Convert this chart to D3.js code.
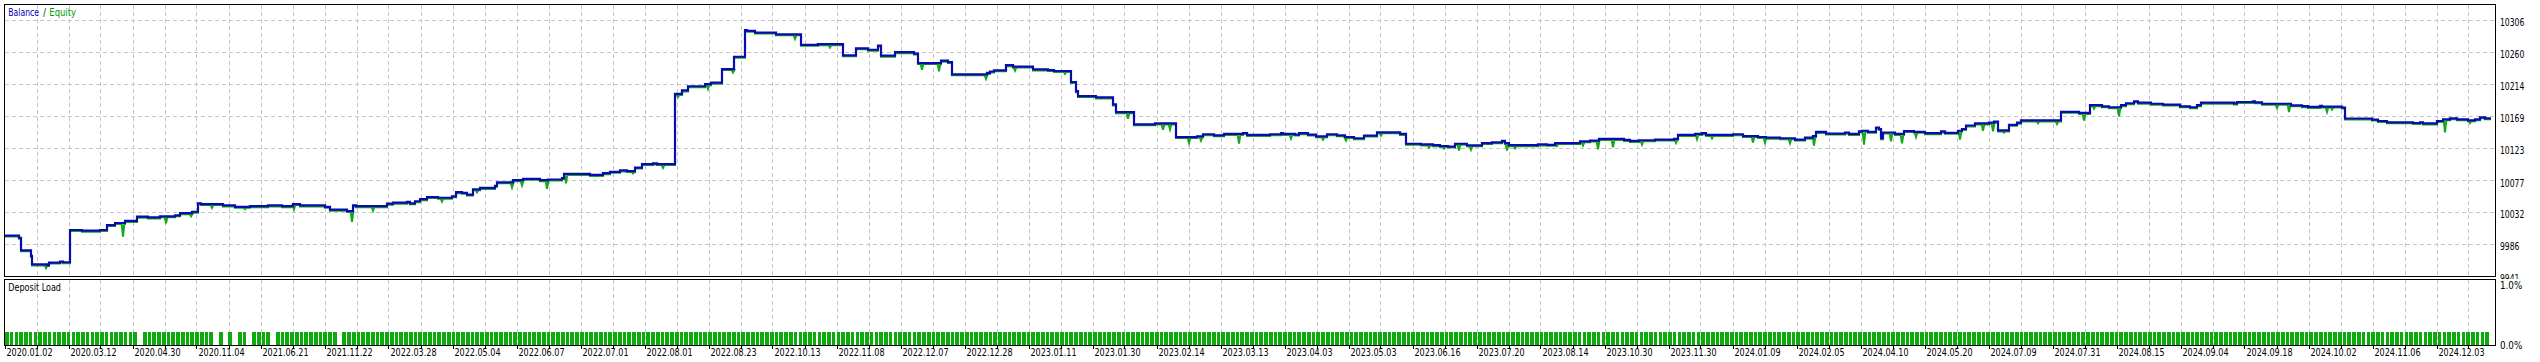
<!DOCTYPE html>
<html><head><meta charset="utf-8">
<script src="https://cdn.jsdelivr.net/npm/d3@7"></script>
<style>html,body{margin:0;padding:0;background:#fff;overflow:hidden}svg{display:block}</style>
</head><body>
<svg id="c" width="2540" height="362"></svg>
<script>
// ---------- DATA ----------
const balanceDeals = [0,14,16,26,27,42,44,55,58,65,77,95,102,110,120,132,143,155,170,175,187,193,196,218,230,245,263,277,288,295,320,325,342,348,351,382,388,402,405,410,415,422,433,447,451,457,462,468,475,490,492,508,518,535,543,557,559,585,598,605,615,622,630,637,648,652,670,677,683,700,706,717,729,740,742,750,771,796,813,838,851,863,873,876,890,909,913,936,943,947,982,985,989,1001,1008,1028,1043,1049,1066,1071,1073,1091,1108,1111,1129,1150,1171,1192,1198,1209,1219,1238,1242,1265,1276,1278,1290,1294,1303,1311,1322,1332,1340,1349,1359,1372,1395,1401,1416,1428,1435,1443,1450,1462,1477,1487,1497,1500,1504,1533,1542,1550,1575,1585,1594,1619,1625,1634,1650,1669,1673,1690,1697,1701,1728,1738,1753,1761,1775,1790,1800,1808,1811,1821,1840,1844,1854,1857,1863,1871,1874,1876,1878,1890,1899,1909,1920,1936,1940,1953,1957,1961,1970,1984,1989,1993,2004,2012,2016,2056,2074,2085,2097,2104,2116,2121,2129,2133,2146,2158,2175,2185,2192,2196,2229,2232,2248,2250,2257,2286,2297,2303,2315,2317,2337,2340,2367,2373,2382,2408,2415,2418,2432,2438,2445,2452,2463,2470,2475,2480,2486];
const balanceValues = [9999,9996,9978,9970,9958,9957,9960.5,9962,9961,10007,10006,10007,10014,10017,10020,10026,10025,10026.5,10028,10031,10033,10045,10044,10042,10040,10041,10042,10041,10044,10042,10040,10036,10034,10042,10041,10044.5,10046,10047,10045,10048,10051,10054,10053,10055,10061,10060,10057.5,10065,10067,10070,10075,10078,10080,10078,10079,10081,10087,10085.5,10088,10090,10092,10091,10096,10101,10102,10101,10201,10206,10212,10215,10217,10236.5,10254,10292,10291,10288.5,10286,10271,10272,10256,10266,10264,10270,10255.5,10260.5,10258.5,10245,10248.5,10246.5,10229,10231,10233,10234.7,10242,10240,10236,10235,10233.7,10218,10205,10198,10196,10186,10175,10157.7,10159,10139.5,10140.6,10143.5,10142,10144,10145.3,10142.5,10143.5,10145,10144,10143,10145,10143,10140.6,10143.5,10142,10139.6,10137.8,10141.6,10146.3,10144,10130,10129,10128,10126.8,10126,10130,10127.8,10131,10132,10134,10131,10128,10129,10128.5,10131,10133.5,10134.5,10136.8,10135.5,10134,10135,10135.9,10137,10142.5,10144,10145,10142.5,10143.5,10141,10139.6,10138.7,10137.8,10136,10138.7,10141,10146.8,10144.5,10146,10144,10147.7,10148.5,10147,10153,10151,10138,10146,10144,10148,10147,10145,10147.5,10145.5,10148.5,10151,10156,10159,10160,10161.5,10149,10157,10160,10163.2,10175.5,10174,10185,10183.4,10182,10185,10187.7,10190.5,10188.6,10187,10185.8,10183.4,10182,10185,10188.5,10187.5,10189.5,10190.5,10189,10187,10184.8,10183.5,10182.5,10184,10183,10181.5,10166,10164.4,10162.4,10160.6,10159.6,10160.6,10159,10162.4,10164.8,10166.3,10164.8,10163.4,10164.8,10167.7,10166.3,10166.3];

const equityDipDeals = [41,118,161,186,207,240,289,347,368,437,472,507,517,542,561,628,658,673,703,728,790,813,825,917,934,981,1010,1060,1123,1158,1165,1184,1196,1234,1286,1318,1341,1376,1424,1439,1454,1466,1502,1510,1552,1578,1593,1608,1637,1671,1692,1707,1748,1760,1785,1809,1859,1886,1897,1911,1955,1978,1988,1999,2033,2052,2079,2089,2114,2272,2284,2322,2327,2440,2465];
const equityDipValues = [9954,9999,10018,10028,10040,10038,10038,10020,10036,10049,10062,10069,10072,10067,10075,10089,10097,10198,10209.5,10233,10281,10257.5,10268.5,10237,10234.7,10224,10235.7,10231,10167,10151.5,10152,10132.5,10136,10131.6,10138.8,10137.3,10136,10143,10126,10124.5,10121.7,10123,10121.7,10125,10128,10129,10123.5,10126.3,10130,10132.5,10137.8,10139,10133,10133,10132,10128.8,10130,10135,10132,10141,10137.3,10150,10149,10147,10160.6,10159.6,10164.4,10181.5,10170.5,10182.4,10176.7,10176.7,10180,10147.7,10160.6];

// deposit load (%), as runs of consecutive bars: [count, value]
const loadRunCounts = [28,1,15,1,1,1,1,1,2,1,4,1,13,1,452];
const loadRunValues = [0.22,0,0.22,0,0.22,0,0.22,0,0.22,0,0.22,0,0.22,0,0.22];

const dateLabels = ["2020.01.02","2020.03.12","2020.04.30","2020.11.04","2021.06.21","2021.11.22","2022.03.28","2022.05.04","2022.06.07","2022.07.01","2022.08.01","2022.08.23","2022.10.13","2022.11.08","2022.12.07","2022.12.28","2023.01.11","2023.01.30","2023.02.14","2023.03.13","2023.04.03","2023.05.03","2023.06.16","2023.07.20","2023.08.14","2023.10.30","2023.11.30","2024.01.09","2024.02.05","2024.04.10","2024.05.20","2024.07.09","2024.07.31","2024.08.15","2024.09.04","2024.09.18","2024.10.02","2024.11.06","2024.12.03"];
const yTicks = [9941,9986,10032,10077,10123,10169,10214,10260,10306];
const loadTicks = [0,1];
const loadTickLabels = ["0.0%","1.0%"];
const totalDeals = 2486;
const labelEveryDeals = 64;
const gridEveryDeals = 32;

// ---------- CHART ----------
const svg = d3.select("#c");
const FONT = "'DejaVu Sans', Verdana, sans-serif";
const main = {l:4.5, r:2495.5, t:4.5, b:276.5};
const sub  = {l:4.5, r:2495.5, t:279.5, b:345.5};

const x = d3.scaleLinear().domain([0,totalDeals]).range([5,2491]);
const y = d3.scaleLinear().domain([9941,10306]).range([276.3,20.3]);
const yl = d3.scaleLinear().domain([0,1]).range([345.5,285.5]);

svg.append("rect").attr("width",2540).attr("height",362).attr("fill","#fff");

const grid = svg.append("g").attr("stroke","#c6c6c6").attr("stroke-width",1)
  .attr("stroke-dasharray","4,3").attr("shape-rendering","crispEdges");
// horizontal grid (main)
yTicks.slice(1).forEach(v=>{
  const yy = Math.floor(y(v))+0.5;
  grid.append("line").attr("x1",main.l).attr("x2",main.r).attr("y1",yy).attr("y2",yy);
});
// vertical grid (both panels)
const gridDeals = d3.range(gridEveryDeals, totalDeals+10, gridEveryDeals).filter(d=>x(d)<main.r-1);
gridDeals.forEach(d=>{
  const xx = Math.floor(x(d))+0.5;
  grid.append("line").attr("x1",xx).attr("x2",xx).attr("y1",main.t).attr("y2",main.b);
  grid.append("line").attr("x1",xx).attr("x2",xx).attr("y1",sub.t).attr("y2",sub.b);
});

// equity points
const balAt = d => { let v = balanceValues[0]; for (let i=0;i<balanceDeals.length;i++){ if (balanceDeals[i]<=d) v=balanceValues[i]; else break;} return v; };
const eqPts = [];
for (let i=0;i<balanceDeals.length-1;i++){
  const d0 = balanceDeals[i], d1 = balanceDeals[i+1], v = balanceValues[i];
  eqPts.push([d0,v]);
  equityDipDeals.forEach((dd,k)=>{
    if (dd>d0 && dd<d1){
      eqPts.push([dd-1.3,v]); eqPts.push([dd,equityDipValues[k]]); eqPts.push([dd+1.3,v]);
    }
  });
  eqPts.push([d1,v]);
}
const lineLin = d3.line().x(p=>x(p[0])).y(p=>y(p[1]));
svg.append("path").attr("d",lineLin(eqPts)).attr("fill","none")
  .attr("stroke","#14a814").attr("stroke-width",2).attr("transform","translate(0,1)")
  .attr("stroke-linejoin","miter");

const balPts = balanceDeals.map((d,i)=>[d,balanceValues[i]]);
const lineStep = d3.line().x(p=>x(p[0])).y(p=>y(p[1])).curve(d3.curveStepAfter);
svg.append("path").attr("d",lineStep(balPts)).attr("fill","none")
  .attr("stroke","#0a0ab2").attr("stroke-width",2.2);

// deposit load bars
const loadVals = [];
loadRunCounts.forEach((n,i)=>{ for(let k=0;k<n;k++) loadVals.push(loadRunValues[i]); });
const xb = d3.scaleBand().domain(d3.range(loadVals.length)).range([5,2489]).paddingInner(0.22).paddingOuter(0);
svg.append("g").attr("shape-rendering","crispEdges").selectAll("rect")
  .data(loadVals.map((v,i)=>({i,v})).filter(o=>o.v>0)).join("rect")
  .attr("x",o=>xb(o.i)).attr("width",xb.bandwidth())
  .attr("y",o=>yl(o.v)).attr("height",o=>yl(0)-yl(o.v)).attr("fill","#0aab0a");

// frames
const frame = svg.append("g").attr("fill","none").attr("stroke","#000").attr("stroke-width",1).attr("shape-rendering","crispEdges");
frame.append("rect").attr("x",main.l).attr("y",main.t).attr("width",main.r-main.l).attr("height",main.b-main.t);
frame.append("rect").attr("x",sub.l).attr("y",sub.t).attr("width",sub.r-sub.l).attr("height",sub.b-sub.t);

// bottom ticks
gridDeals.concat([0]).forEach(d=>{
  const xx = Math.floor(x(d))+0.5;
  frame.append("line").attr("x1",xx).attr("x2",xx).attr("y1",346).attr("y2",349);
});

// texts
function txt(g, s, xx, yy, len, color){
  return g.append("text").attr("x",xx).attr("y",yy).text(s)
    .attr("font-family",FONT).attr("font-size",10).attr("fill",color||"#000")
    .attr("textLength",len).attr("lengthAdjust","spacingAndGlyphs");
}
const tg = svg.append("g");
dateLabels.forEach((s,i)=>{
  txt(tg, s, x(i*labelEveryDeals)+1.5, 356, 46);
});
svg.append("clipPath").attr("id","yclip").append("rect").attr("x",2496).attr("y",0).attr("width",44).attr("height",279);
const yg = svg.append("g").attr("clip-path","url(#yclip)");
yTicks.forEach(v=>{
  const s = String(v);
  txt(yg, s, 2500, y(v)+5.6, s.length*4.87);
});
loadTicks.forEach((v,i)=>{
  txt(tg, loadTickLabels[i], 2500, yl(v)+3.6, 22.3);
});
txt(tg, "Balance", 8.3, 16, 30.7, "#0000c0");
txt(tg, "/", 43.3, 16, 2.6, "#000");
txt(tg, "Equity", 49.3, 16, 26.7, "#00a000");
txt(tg, "Deposit Load", 8.3, 290.7, 52.7, "#000");
</script>
</body></html>
